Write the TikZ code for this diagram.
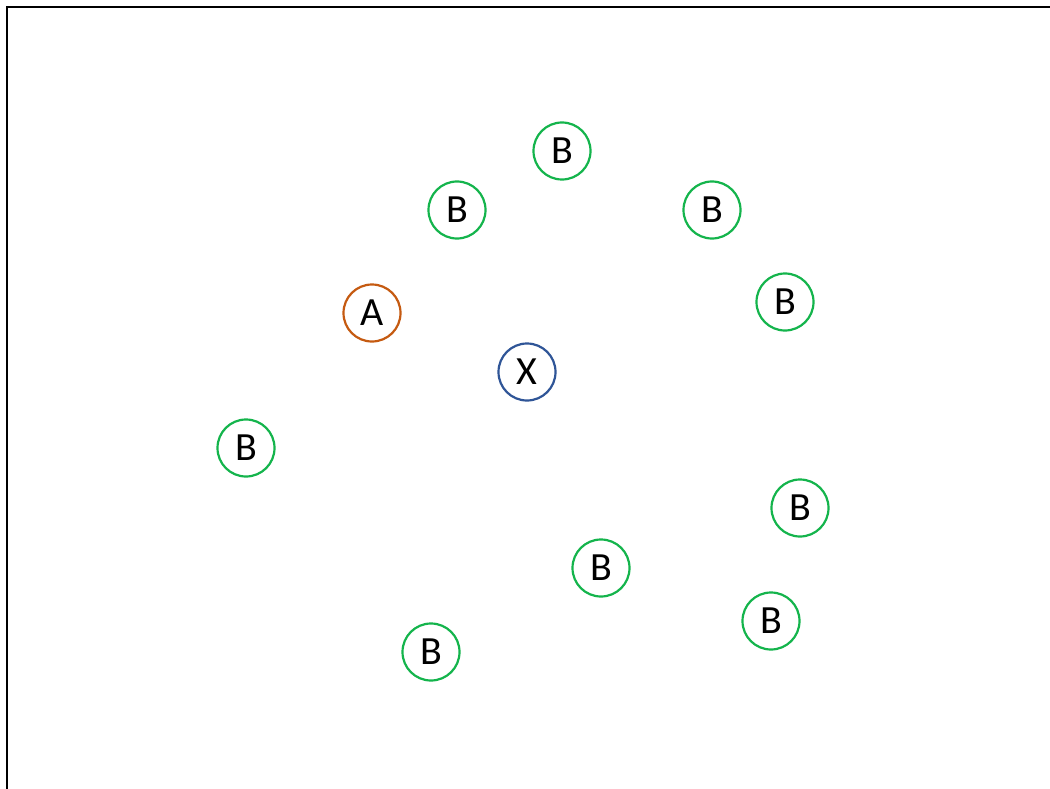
\documentclass[tikz,border=0pt]{standalone}
\usepackage{fontspec}
\setmainfont{Carlito}
\definecolor{bgreen}{HTML}{14B44C}
\definecolor{aorange}{HTML}{C55A11}
\definecolor{xblue}{HTML}{2F5597}
\begin{document}
\begin{tikzpicture}[x=1pt,y=-1pt,
  pt/.style={circle,draw,line width=2.2pt,minimum size=57pt,inner sep=0pt,font=\fontsize{40}{42}\selectfont},
  bnode/.style={pt,draw=bgreen},
  anode/.style={pt,draw=aorange},
  xnode/.style={pt,draw=xblue}]
\useasboundingbox (0,0) rectangle (1050,789);
\coordinate (fl) at (7,789);
\coordinate (fc) at (7,7);
\coordinate (fr) at (1050,7);
\draw[line width=2.4pt,line cap=butt] (fl) -- (fc) -- (fr);
\node[bnode] (b1) at (562,151) {B};
\node[bnode] (b2) at (457,210) {B};
\node[bnode] (b3) at (712,210) {B};
\node[bnode] (b4) at (785,302) {B};
\node[anode] (a) at (372,313) {A};
\node[xnode] (x) at (527,372) {X};
\node[bnode] (b5) at (246,448) {B};
\node[bnode] (b6) at (800,508) {B};
\node[bnode] (b7) at (601,568) {B};
\node[bnode] (b8) at (771,621) {B};
\node[bnode] (b9) at (431,652) {B};
\end{tikzpicture}
\end{document}
